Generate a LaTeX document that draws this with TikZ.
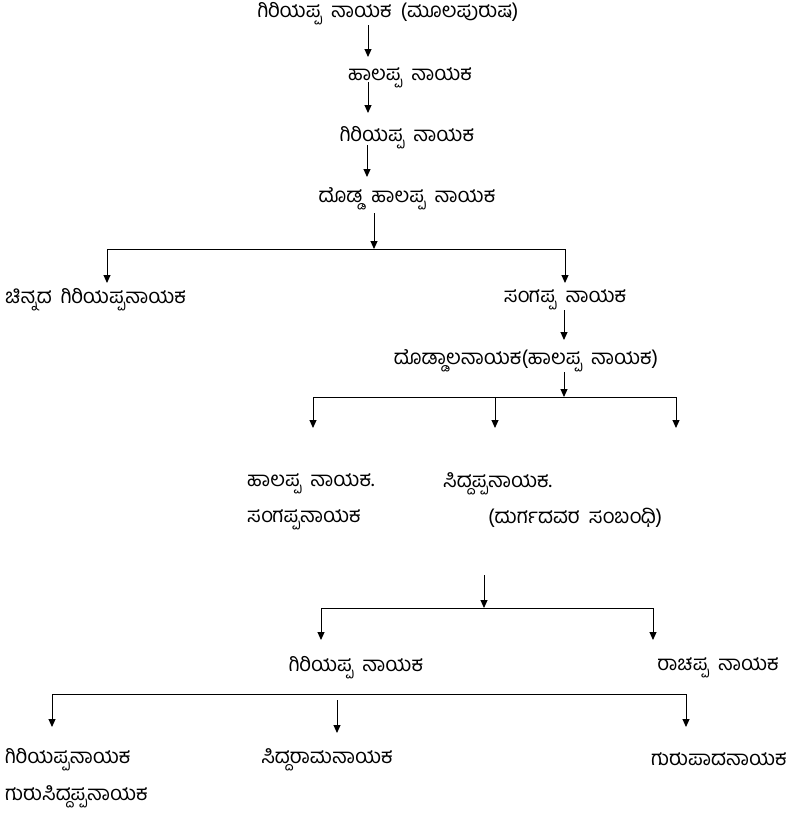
\documentclass[tikz,border=0pt]{standalone}
\usepackage{fontspec}
\newfontfamily\kn[Script=Kannada, WordSpace=1.8]{Hind Mysuru}
\usetikzlibrary{arrows.meta, calc}

\tikzset{
  person/.style={font=\kn\fontsize{20.5}{24}\selectfont, inner sep=0pt},
  arr/.style={-{Triangle[length=8pt,width=7pt]}, line width=1pt},
  link/.style={line width=1pt}
}

\begin{document}
\begin{tikzpicture}[x=1pt, y=-1pt]
   \useasboundingbox (0,0) rectangle (792,815);

   \node[person] (t0)  at (388,14)  {ಗಿರಿಯಪ್ಪ ನಾಯಕ (ಮೂಲಪುರುಷ)};
   \node[person] (t1)  at (410,78)  {ಹಾಲಪ್ಪ ನಾಯಕ};
   \node[person] (t2)  at (407,138) {ಗಿರಿಯಪ್ಪ ನಾಯಕ};
   \node[person] (t3)  at (407,199) {ದೊಡ್ಡ ಹಾಲಪ್ಪ ನಾಯಕ};
   \node[person, anchor=west] (t4) at (5,300) {ಚಿನ್ನದ ಗಿರಿಯಪ್ಪನಾಯಕ};
   \node[person] (t5)  at (565,300) {ಸಂಗಪ್ಪ ನಾಯಕ};
   \node[person] (t6)  at (526,361) {ದೊಡ್ಡಾಲನಾಯಕ(ಹಾಲಪ್ಪ ನಾಯಕ)};
   \node[person, anchor=west] (t7)  at (247,484) {ಹಾಲಪ್ಪ ನಾಯಕ.};
   \node[person, anchor=west] (t8)  at (247,520) {ಸಂಗಪ್ಪನಾಯಕ};
   \node[person, anchor=west] (t9)  at (443,484) {ಸಿದ್ದಪ್ಪನಾಯಕ.};
   \node[person, anchor=west] (t10) at (488,518) {(ದುರ್ಗದವರ ಸಂಬಂಧಿ)};
   \node[person] (t11) at (356,668) {ಗಿರಿಯಪ್ಪ ನಾಯಕ};
   \node[person] (t12) at (718,668) {ರಾಚಪ್ಪ ನಾಯಕ};
   \node[person, anchor=west] (t13) at (5,760) {ಗಿರಿಯಪ್ಪನಾಯಕ};
   \node[person] (t14) at (327,760) {ಸಿದ್ದರಾಮನಾಯಕ};
   \node[person, anchor=east] (t15) at (787,759) {ಗುರುಪಾದನಾಯಕ};
   \node[person, anchor=west] (t16) at (5,797) {ಗುರುಸಿದ್ದಪ್ಪನಾಯಕ};

   \coordinate (j1)  at (374,249);
   \coordinate (b1l) at (107,249);
   \coordinate (b1r) at (565,249);
   \coordinate (j2)  at (564,397);
   \coordinate (b2l) at (313,397);
   \coordinate (b2m) at (495,397);
   \coordinate (b2r) at (676,397);
   \coordinate (j3)  at (484,608);
   \coordinate (b3l) at (321,608);
   \coordinate (b3r) at (653,608);
   \coordinate (b4l) at (52,694);
   \coordinate (b4m) at (337,694);
   \coordinate (b4r) at (686,694);

   \draw[arr] ([shift={(-20,11)}]t0.center) -- ([shift={(-42,-21)}]t1.center);
   \draw[arr] ([shift={(-42,4)}]t1.center) -- ([shift={(-39,-25)}]t2.center);
   \draw[arr] ([shift={(-40,7)}]t2.center) -- ([shift={(-40,-22)}]t3.center);
   \draw[arr] ([shift={(-33,14)}]t3.center) -- (j1);

   \draw[link] (b1l) -- (b1r);
   \draw[arr] (b1l) -- ($(b1l |- t4)+(0,-17)$);
   \draw[arr] (b1r) -- ($(b1r |- t5)+(0,-17)$);

   \draw[arr] ([shift={(-1,10)}]t5.center) -- ([shift={(38,-21)}]t6.center);
   \draw[arr] ([shift={(38,11)}]t6.center) -- (j2);

   \draw[link] (b2l) -- (b2r);
   \draw[arr] (b2l) -- ($(b2l |- t7)+(0,-56)$);
   \draw[arr] (b2m) -- ($(b2m |- t9)+(0,-56)$);
   \draw[arr] (b2r) -- ($(b2r |- t9)+(0,-56)$);

   \draw[arr] ($(j3 |- t10)+(0,57)$) -- (j3);
   \draw[link] (b3l) -- (b3r);
   \draw[arr] (b3l) -- ($(b3l |- t11)+(0,-28)$);
   \draw[arr] (b3r) -- ($(b3r |- t12)+(0,-28)$);

   \draw[link] (b4l) -- (b4r);
   \draw[arr] (b4l) -- ($(b4l |- t13)+(0,-33)$);
   \draw[arr] ($(b4m)+(0,6)$) -- ($(b4m |- t14)+(0,-27)$);
   \draw[arr] (b4r) -- ($(b4r |- t15)+(0,-32)$);
\end{tikzpicture}
\end{document}
